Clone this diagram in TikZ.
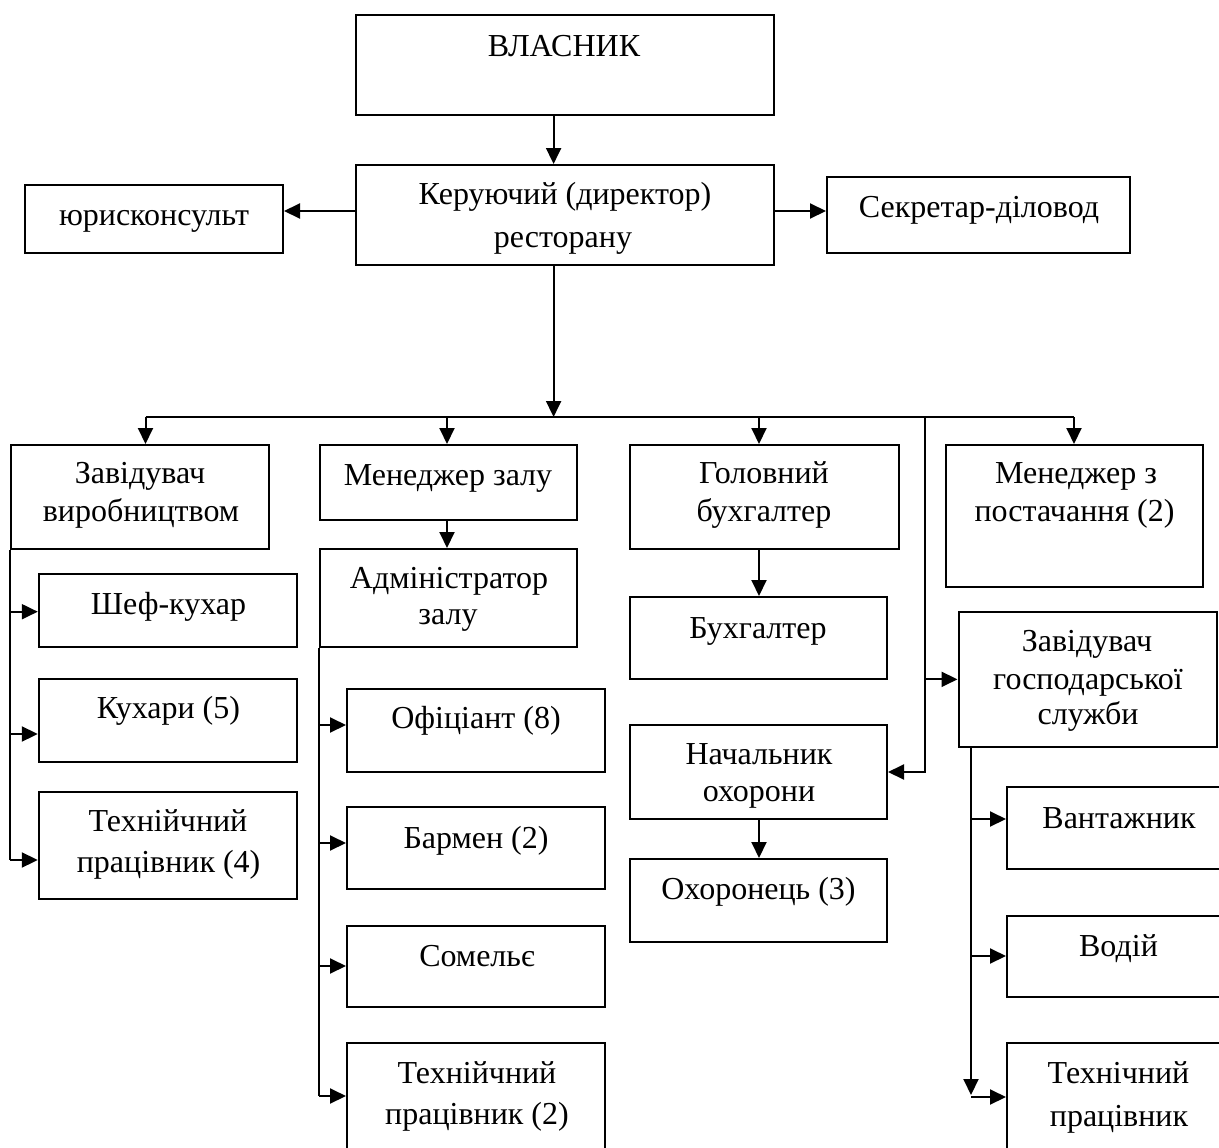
\documentclass[tikz,border=0pt]{standalone}
\usepackage{fontspec}
\setmainfont{Liberation Serif}
\usetikzlibrary{arrows.meta}
\tikzset{
  box/.style={draw=black, line width=2pt, inner sep=0pt, fill=none},
  txt/.style={anchor=base, inner sep=0pt, font=\fontsize{32}{37}\selectfont},
  conn/.style={line width=2pt},
  arr/.style={line width=2pt, -{Triangle[length=16pt,width=15pt]}},
}
\newcommand\mkbox[5]{\node[box, minimum width={(#4)-(#2)}, minimum height={(#5)-(#3)}] (#1) at ({((#2)+(#4))/2},{((#3)+(#5))/2}) {};}
\begin{document}
\begin{tikzpicture}[x=1pt,y=-1pt]
\useasboundingbox (0,0) rectangle (1219,1148);
\fill[white] (0,0) rectangle (1219,1148);
\clip (0,0) rectangle (1219,1148);
% boxes
\mkbox{vl}{356}{15}{774}{115}
\mkbox{dir}{356}{165}{774}{265}
\mkbox{yur}{24.5}{185}{283}{253}
\mkbox{sec}{827}{177}{1130}{253}
\mkbox{zav}{11}{445}{269}{549}
\mkbox{mz}{319.5}{445}{577}{520}
\mkbox{gb}{629.6}{445}{899}{549}
\mkbox{mp}{946}{445}{1203}{587}
\mkbox{sk}{38.8}{574}{297}{647}
\mkbox{kux}{38.8}{679}{297}{762}
\mkbox{tpa}{38.8}{792}{297}{899}
\mkbox{adm}{319.5}{549}{577}{647}
\mkbox{of}{347}{689}{605}{772}
\mkbox{bar}{347}{807}{605}{889}
\mkbox{som}{347}{926}{605}{1007}
\mkbox{tpb}{347}{1043}{605}{1165}
\mkbox{bux}{629.6}{597}{887}{679}
\mkbox{nach}{629.6}{725}{887}{819}
\mkbox{okh}{629.6}{859}{887}{942}
\mkbox{zg}{958.5}{611.7}{1216.7}{747}
\mkbox{van}{1007}{787}{1231}{869}
\mkbox{vod}{1007}{916}{1231}{997}
\mkbox{tpc}{1007}{1043}{1231}{1165}
% texts
\node[txt] (t-vl) at (564,57) {ВЛАСНИК};
\node[txt] (t-dir1) at (565,204) {Керуючий (директор)};
\node[txt] (t-dir2) at (563,247) {ресторану};
\node[txt] (t-yur) at (154,225) {юрисконсульт};
\node[txt] (t-sec) at (979,217) {Секретар-діловод};
\node[txt] (t-zav1) at (140,483) {Завідувач};
\node[txt] (t-zav2) at (141,521) {виробництвом};
\node[txt] (t-mz) at (448,485) {Менеджер залу};
\node[txt] (t-gb1) at (764,483) {Головний};
\node[txt] (t-gb2) at (764,521) {бухгалтер};
\node[txt] (t-mp1) at (1076,483) {Менеджер з};
\node[txt] (t-mp2) at (1074.5,521) {постачання (2)};
\node[txt] (t-sk) at (168.5,614) {Шеф-кухар};
\node[txt] (t-kux) at (168.5,718) {Кухари (5)};
\node[txt] (t-tpa1) at (168,831) {Технійчний};
\node[txt] (t-tpa2) at (168.6,872) {працівник (4)};
\node[txt] (t-adm1) at (449,588) {Адміністратор};
\node[txt] (t-adm2) at (448,624) {залу};
\node[txt] (t-of) at (476,728) {Офіціант (8)};
\node[txt] (t-bar) at (476,848) {Бармен (2)};
\node[txt] (t-som) at (477,966) {Сомельє};
\node[txt] (t-tpb1) at (477,1083) {Технійчний};
\node[txt] (t-tpb2) at (477,1124) {працівник (2)};
\node[txt] (t-bux) at (758,638) {Бухгалтер};
\node[txt] (t-nach1) at (759,764) {Начальник};
\node[txt] (t-nach2) at (759,801) {охорони};
\node[txt] (t-okh) at (758.5,899) {Охоронець (3)};
\node[txt] (t-zg1) at (1087,651) {Завідувач};
\node[txt] (t-zg2) at (1088,689) {господарської};
\node[txt] (t-zg3) at (1088,724) {служби};
\node[txt] (t-van) at (1119,828) {Вантажник};
\node[txt] (t-vod) at (1118.5,956) {Водій};
\node[txt] (t-tpc1) at (1118.5,1083) {Технічний};
\node[txt] (t-tpc2) at (1119,1126) {працівник};
% junction coordinates
\coordinate (xm) at (553.6,0);
\coordinate (bus) at (0,417);
\coordinate (xa) at (145.5,0);
\coordinate (xb) at (447,0);
\coordinate (xc) at (759,0);
\coordinate (xd) at (1074,0);
\coordinate (xr) at (924.5,0);
\coordinate (xs) at (971,0);
% top connectors
\draw[arr] (xm |- vl.south) -- (xm |- dir.north);
\draw[arr] (dir.west |- 0,211) -- (yur.east |- 0,211);
\draw[arr] (dir.east |- 0,211) -- (sec.west |- 0,211);
\draw[arr] (xm |- dir.south) -- (xm |- bus);
\draw[conn] (xa |- bus) -- (xd |- bus);
\draw[arr] (xa |- bus) -- (xa |- zav.north);
\draw[arr] (xb |- bus) -- (xb |- mz.north);
\draw[arr] (xc |- bus) -- (xc |- gb.north);
\draw[arr] (xd |- bus) -- (xd |- mp.north);
\draw[arr] (xr |- bus) |- (nach.east);
\draw[arr] (xr |- zg.west) -- (zg.west);
% production
\draw[conn] (zav.south west) -- (zav.south west |- 0,860);
\draw[arr] (zav.south west |- 0,611.7) -- (sk.west |- 0,611.7);
\draw[arr] (zav.south west |- 0,734) -- (kux.west |- 0,734);
\draw[arr] (zav.south west |- 0,860) -- (tpa.west |- 0,860);
% hall
\draw[arr] (xb |- mz.south) -- (xb |- adm.north);
\draw[conn] (adm.south west) -- (adm.south west |- 0,1096);
\draw[arr] (adm.south west |- 0,725) -- (of.west |- 0,725);
\draw[arr] (adm.south west |- 0,843) -- (bar.west |- 0,843);
\draw[arr] (adm.south west |- 0,966) -- (som.west |- 0,966);
\draw[arr] (adm.south west |- 0,1096) -- (tpb.west |- 0,1096);
% accounting and security
\draw[arr] (xc |- gb.south) -- (xc |- bux.north);
\draw[arr] (xc |- nach.south) -- (xc |- okh.north);
% household
\draw[arr] (xs |- zg.south) -- (xs |- 0,1095);
\draw[arr] (xs |- 0,819) -- (van.west |- 0,819);
\draw[arr] (xs |- 0,956) -- (vod.west |- 0,956);
\draw[arr] (xs |- 0,1097) -- (tpc.west |- 0,1097);
\end{tikzpicture}
\end{document}
